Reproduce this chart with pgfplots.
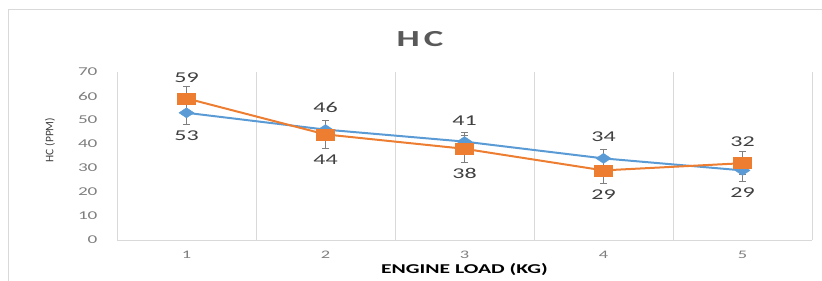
\documentclass[border=0pt]{standalone}
\usepackage{pgfplots}
\pgfplotsset{compat=1.18}
\usepackage{pgfplotstable}
\usepackage{graphicx}
\usepackage{fontspec}
\setmainfont[FakeStretch=1.6]{Carlito}
\newfontfamily\plainfont{Carlito}
\definecolor{cblue}{HTML}{5B9BD5}
\definecolor{corange}{HTML}{ED7D31}
\definecolor{gridc}{HTML}{D9D9D9}
\definecolor{tickc}{HTML}{7F7F7F}
\definecolor{labc}{HTML}{404040}
\definecolor{titc}{HTML}{595959}

\pgfplotstableread{
x y err pos
1 53 4.7 -23
2 46 3.8 22
3 41 3.8 21
4 34 3.8 22
5 29 4.4 -22
}\blueT
\pgfplotstableread{
x y err pos
1 59 4.8 21
2 44 5.8 -25
3 38 5.6 -25
4 29 5.4 -24
5 32 4.8 22
}\orangeT

\begin{document}
\begin{tikzpicture}[x=1pt,y=1pt]
\path[use as bounding box] (0,0) rectangle (822,281);
\draw[gridc, line width=1pt] (8.5,0) -- (8.5,271.5) -- (822,271.5);
\node[font=\fontsize{23}{23}\selectfont\bfseries, text=titc] at (420,242) {H\hspace{4pt}C};
\node[text=labc, inner sep=0pt] at (50,141) {\rotatebox{90}{\plainfont\fontsize{11.5}{12}\selectfont HC (PPM)}};
\begin{axis}[at={(117pt,41pt)}, anchor=south west, scale only axis,
  width=695pt, height=168pt,
  xmin=0.5, xmax=5.5, ymin=0, ymax=70,
  xtick={1,2,3,4,5}, ytick={0,10,...,70},
  minor xtick={0.5,1.5,...,5.5}, xminorgrids,
  minor grid style={gridc, line width=1pt},
  extra y ticks={0}, extra y tick labels={},
  extra y tick style={grid=major, major grid style={gridc, line width=1pt}},
  axis line style={draw=none},
  major tick length=0pt, minor tick length=0pt,
  /pgf/number format/assume math mode=true,
  yticklabel style={font=\fontsize{12}{12}\selectfont, text=tickc, xshift=-16pt},
  xticklabel style={font=\fontsize{11.5}{12}\selectfont, text=tickc, yshift=-8pt},
  xlabel={\bfseries ENGINE LOAD (KG)},
  xlabel style={at={(axis description cs:0.5,0)}, anchor=center, yshift=-30pt,
    font=\fontsize{13.5}{14}\selectfont, text=black},
  clip=false,
  nodes near coords, point meta=explicit,
  every node near coord/.append style={anchor=center, yshift=\pos pt,
    font=\fontsize{15}{15}\selectfont, text=labc},
]
\addplot[cblue, line width=2pt, mark=diamond*, mark size=5pt,
  mark options={xscale=2, fill=cblue, draw=cblue, line width=0.5pt},
  visualization depends on={\thisrow{pos} \as \pos},
  error bars/.cd, y dir=both, y explicit,
  error bar style={tickc, line width=0.8pt},
  error mark options={rotate=90, mark size=3.5pt, tickc, line width=0.8pt}]
  table[x=x, y=y, y error=err, meta=y] {\blueT};
\addplot[corange, line width=2pt, mark=square*, mark size=5.5pt,
  mark options={xscale=1.6, fill=corange, draw=corange, line width=0.5pt},
  visualization depends on={\thisrow{pos} \as \pos},
  error bars/.cd, y dir=both, y explicit,
  error bar style={tickc, line width=0.8pt},
  error mark options={rotate=90, mark size=3.5pt, tickc, line width=0.8pt}]
  table[x=x, y=y, y error=err, meta=y] {\orangeT};
\end{axis}
\end{tikzpicture}
\end{document}
